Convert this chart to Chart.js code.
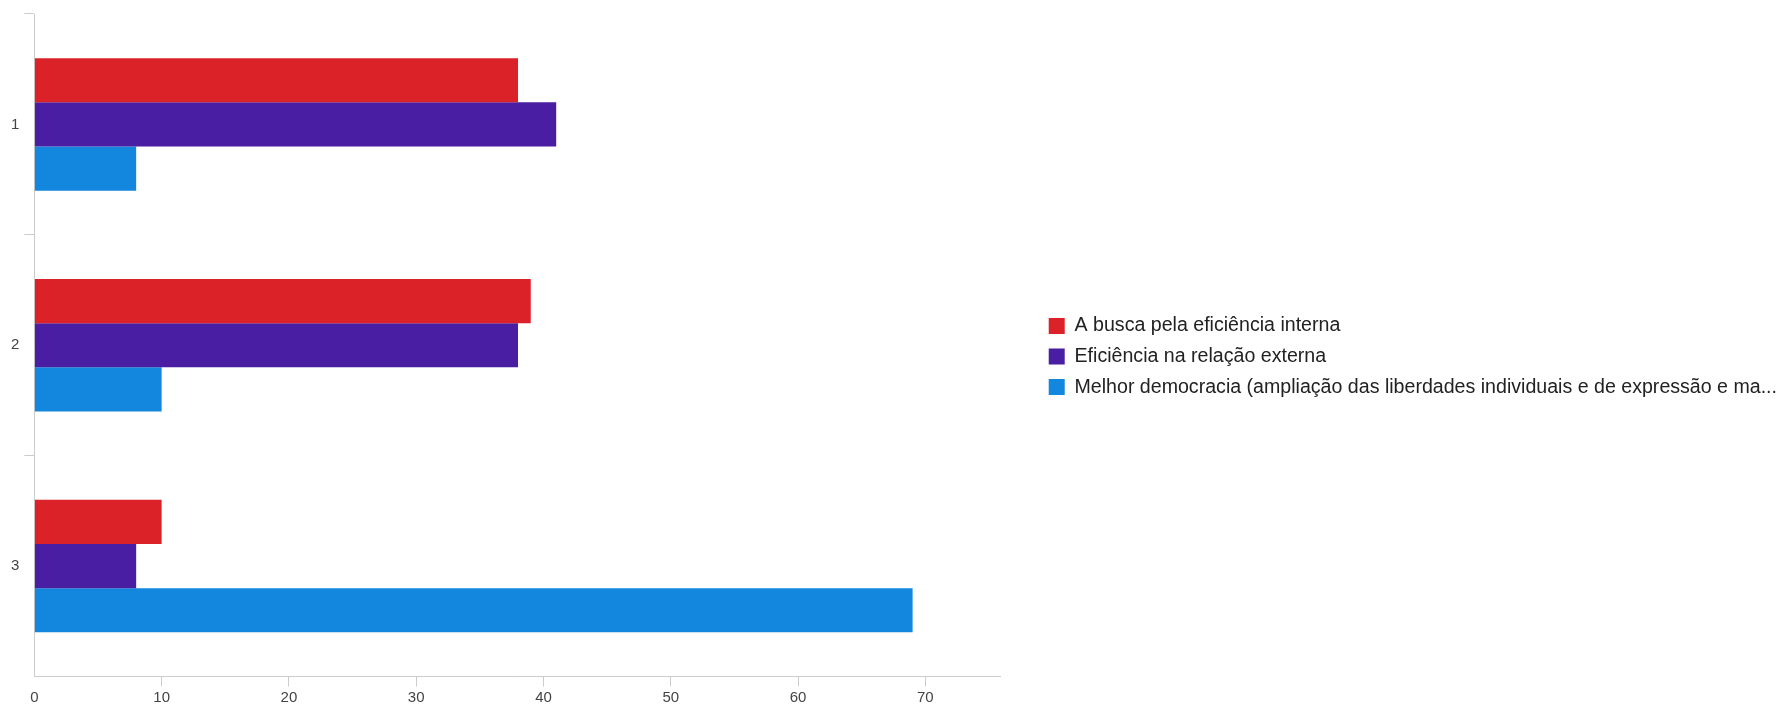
<!DOCTYPE html>
<html>
<head>
<meta charset="utf-8">
<script src="https://cdn.jsdelivr.net/npm/chart.js@4.4.1/dist/chart.umd.min.js"></script>
<style>
  html, body { margin: 0; padding: 0; background: #ffffff; }
  #wrap { width: 1783px; height: 707px; position: relative; }
</style>
</head>
<body>
<div id="wrap"><canvas id="c"></canvas></div>
<script>
const categories = ['1', '2', '3'];
const seriesNames = [
  'A busca pela eficiência interna',
  'Eficiência na relação externa',
  'Melhor democracia (ampliação das liberdades individuais e de expressão e ma...'
];
const buscaEficienciaInterna = [38, 39, 10];
const eficienciaRelacaoExterna = [41, 38, 8];
const melhorDemocracia = [8, 10, 69];
const xTickValues = [0, 10, 20, 30, 40, 50, 60, 70];
const xMax = 75.9;

const colors = ['#dc2229', '#4a1ea2', '#1287dd'];
const axisColor = '#cccccc';
const fontFamily = '"Liberation Sans", Arial, Helvetica, sans-serif';

new Chart(document.getElementById('c'), {
  type: 'bar',
  data: {
    labels: categories,
    datasets: [
      { label: seriesNames[0], data: buscaEficienciaInterna, backgroundColor: colors[0], borderWidth: 0 },
      { label: seriesNames[1], data: eficienciaRelacaoExterna, backgroundColor: colors[1], borderWidth: 0 },
      { label: seriesNames[2], data: melhorDemocracia, backgroundColor: colors[2], borderWidth: 0 }
    ]
  },
  options: {
    indexAxis: 'y',
    responsive: true,
    maintainAspectRatio: false,
    animation: false,
    datasets: { bar: { categoryPercentage: 0.6, barPercentage: 1.0 } },
    layout: { padding: { left: 6, top: 4, right: -4, bottom: -2 } },
    scales: {
      x: {
        type: 'linear',
        min: 0,
        max: xMax,
        afterBuildTicks: (scale) => { scale.ticks = xTickValues.map(v => ({ value: v })); },
        ticks: { stepSize: 10, includeBounds: false, color: '#444444', padding: 3, font: { family: fontFamily, size: 15, lineHeight: 1.1 } },
        grid: {
          drawOnChartArea: false,
          drawTicks: true,
          tickLength: 10,
          color: (c) => (c.type === 'tick' && c.tick && c.tick.value === 0) ? 'rgba(0,0,0,0)' : axisColor
        },
        border: { display: true, color: axisColor, width: 1 }
      },
      y: {
        type: 'category',
        offset: true,
        ticks: { color: '#444444', padding: 5, font: { family: fontFamily, size: 15 } },
        grid: {
          offset: true,
          drawOnChartArea: false,
          drawTicks: true,
          tickLength: 10,
          color: (c) => c.type === 'tick' ? axisColor : 'rgba(0,0,0,0)'
        },
        border: { display: true, color: axisColor, width: 1 }
      },
      spacerTop: {
        type: 'linear',
        position: 'top',
        display: true,
        ticks: { display: false },
        grid: { display: false, drawTicks: false },
        border: { display: false },
        afterFit: (s) => { s.height = 7; }
      },
      spacerRight: {
        type: 'linear',
        position: 'right',
        display: true,
        ticks: { display: false },
        grid: { display: false, drawTicks: false },
        border: { display: false },
        afterFit: (s) => { s.width = 37.3; }
      }
    },
    plugins: {
      tooltip: { enabled: false },
      title: { display: false },
      legend: {
        display: true,
        position: 'right',
        align: 'center',
        maxWidth: 780,
        labels: {
          boxWidth: 16,
          boxHeight: 16,
          padding: 11,
          color: '#222222',
          font: { family: fontFamily, size: 19.6 }
        }
      }
    }
  }
});
</script>
</body>
</html>
